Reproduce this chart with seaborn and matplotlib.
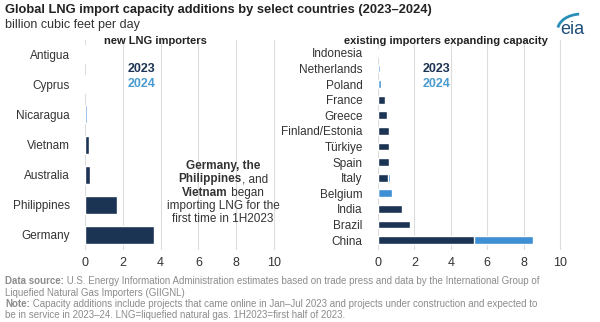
import matplotlib
matplotlib.use("Agg")
import matplotlib.pyplot as plt
import seaborn as sns
import pandas as pd
from matplotlib.patches import Arc

sns.set_theme(style="white")
plt.rcParams['font.family'] = ['Liberation Sans', 'DejaVu Sans']

# ---- data ----
new_countries = ["Antigua", "Cyprus", "Nicaragua", "Vietnam", "Australia", "Philippines", "Germany"]
new_2023 = [0.0, 0.0, 0.0, 0.22, 0.27, 1.7, 3.65]
new_2024 = [0.03, 0.07, 0.12, 0.0, 0.0, 0.0, 0.0]

exist_countries = ["Indonesia", "Netherlands", "Poland", "France", "Greece", "Finland/Estonia",
                   "Türkiye", "Spain", "Italy", "Belgium", "India", "Brazil", "China"]
exist_2023 = [0.0, 0.0, 0.0, 0.4, 0.5, 0.58, 0.6, 0.63, 0.57, 0.0, 1.3, 1.75, 5.27]
exist_2024 = [0.02, 0.1, 0.15, 0.0, 0.0, 0.0, 0.0, 0.0, 0.1, 0.75, 0.0, 0.0, 3.25]

x_ticks = [0, 2, 4, 6, 8, 10]
title = "Global LNG import capacity additions by select countries (2023\u20132024)"
subtitle = "billion cubic feet per day"
panel_titles = ["new LNG importers", "existing importers expanding capacity"]

DARK = "#1c3453"
LIGHT = "#3e8fd3"
LEG24 = "#4a9bcf"
GRID = "#dcdcdc"
TXT = "#333333"
FOOT = "#8c8c8c"

W, H = 600, 322
fig = plt.figure(figsize=(6.0, 3.22), dpi=100)

def px_axes(x0, x1, y0, y1):
    return fig.add_axes([x0 / W, 1 - y1 / H, (x1 - x0) / W, (y1 - y0) / H])

def panel(ax, cats, v23, v24, ylim, bar_h):
    df = pd.DataFrame({"country": cats,
                       "y2023": v23,
                       "total": [a + b for a, b in zip(v23, v24)]})
    sns.barplot(data=df, x="total", y="country", color=LIGHT, width=bar_h,
                saturation=1, ax=ax, orient="h")
    sns.barplot(data=df, x="y2023", y="country", color=DARK, width=bar_h,
                saturation=1, ax=ax, orient="h")
    ax.set_xlim(0, 10.4)
    ax.set_ylim(*ylim)
    ax.set_xticks(x_ticks)
    ax.set_xticklabels([str(t) for t in x_ticks])
    ax.set_xlabel("")
    ax.set_ylabel("")
    ax.grid(axis="x", color=GRID, linewidth=0.8)
    ax.set_axisbelow(True)
    for s in ax.spines.values():
        s.set_visible(False)
    ax.tick_params(axis="y", length=0, labelsize=8.5, colors=TXT, pad=11)
    ax.tick_params(axis="x", length=0, labelsize=9, colors=TXT, pad=5)

# left panel
axL = px_axes(85, 85 + 10.4 * 18.9, 40, 250)
panel(axL, new_countries, new_2023, new_2024, (6.5, -0.47), 0.6)
# right panel
axR = px_axes(378, 378 + 10.4 * 18.2, 40, 250)
panel(axR, exist_countries, exist_2023, exist_2024, (12.64, -0.83), 0.5)

# titles
fig.text(5 / W, 1 - 10 / H, title, fontsize=9.3, fontweight="bold", color="#222222",
         ha="left", va="center")
fig.text(5 / W, 1 - 25 / H, subtitle, fontsize=9, color=TXT, ha="left", va="center")
fig.text(155 / W, 1 - 41 / H, panel_titles[0], fontsize=8, fontweight="bold",
         color="#222222", ha="center", va="center")
fig.text(446 / W, 1 - 41 / H, panel_titles[1], fontsize=8, fontweight="bold",
         color="#222222", ha="center", va="center")

# legends
for x in (128, 423):
    fig.text(x / W, 1 - 69 / H, "2023", fontsize=9, fontweight="bold", color=DARK,
             ha="left", va="center")
    fig.text(x / W, 1 - 84 / H, "2024", fontsize=9, fontweight="bold", color=LEG24,
             ha="left", va="center")

# annotation
ann_lines = [
    [("Germany, the", "bold")],
    [("Philippines", "bold"), (", and", "normal")],
    [("Vietnam", "bold"), (" began", "normal")],
    [("importing LNG for the", "normal")],
    [("first time in 1H2023", "normal")],
]
fig.canvas.draw()
renderer = fig.canvas.get_renderer()

def rich_line(x_px, y_px, parts, size, color, align="left"):
    widths = []
    for txt, wt in parts:
        t = fig.text(0, 0, txt, fontsize=size, fontweight=wt)
        bb = t.get_window_extent(renderer)
        widths.append(bb.width)
        t.remove()
    total = sum(widths)
    x = x_px - total / 2 if align == "center" else x_px
    for (txt, wt), w in zip(parts, widths):
        fig.text(x / W, 1 - y_px / H, txt, fontsize=size, fontweight=wt, color=color,
                 ha="left", va="center")
        x += w

for i, parts in enumerate(ann_lines):
    rich_line(223, 166 + i * 13.3, parts, 8.5, TXT, align="center")

# footer
foot = [
    [("Data source:", "bold"), (" U.S. Energy Information Administration estimates based on trade press and data by the International Group of", "normal")],
    [("Liquefied Natural Gas Importers (GIIGNL)", "normal")],
    [("Note:", "bold"), (" Capacity additions include projects that came online in Jan\u2013Jul 2023 and projects under construction and expected to", "normal")],
    [("be in service in 2023\u201324. LNG=liquefied natural gas. 1H2023=first half of 2023.", "normal")],
]
for i, parts in enumerate(foot):
    rich_line(5, 281 + i * 11.5, parts, 7, FOOT)

# eia logo
fig.text(572 / W, 1 - 30 / H, "eia", fontsize=13, color="#1f4e79", ha="center",
         va="center")
logo_ax = fig.add_axes([556 / W, 1 - 30 / H, 34 / W, 20 / H])
logo_ax.set_xlim(0, 1)
logo_ax.set_ylim(0, 1)
logo_ax.axis("off")
logo_ax.add_patch(Arc((0.75, 0.0), 1.4, 1.6, theta1=95, theta2=170, color="#2a8fb8",
                      linewidth=2))

fig.savefig("out.png", dpi=100)
